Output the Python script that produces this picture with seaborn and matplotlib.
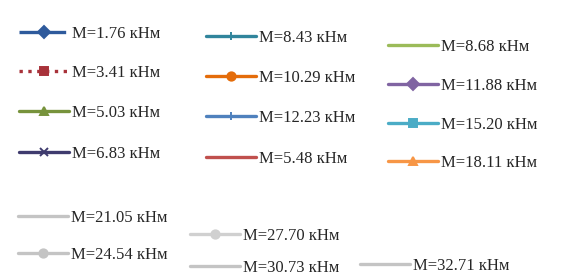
import matplotlib
matplotlib.use("Agg")
import matplotlib.pyplot as plt
from matplotlib.lines import Line2D
import seaborn as sns

sns.set_style("white")
plt.rcParams['font.family'] = ['Liberation Serif', 'DejaVu Serif']

# legend entries (bending moment, kN*m)
moments = ["1.76", "3.41", "5.03", "6.83",
           "8.43", "10.29", "12.23", "5.48",
           "8.68", "11.88", "15.20", "18.11",
           "21.05", "24.54", "27.70", "30.73", "32.71"]
colors = ["#2e5a9c", "#a8323a", "#77933c", "#3f3b6e",
          "#31859c", "#e46c0a", "#4f81bd", "#c0504d",
          "#9bbb59", "#8064a2", "#4bacc6", "#f79646",
          "#c4c4c4", "#c4c4c4", "#d0d0d0", "#c4c4c4", "#c4c4c4"]
markers = ["D", "s", "^", "x",
           "+", "o", "+", "",
           "", "D", "s", "^",
           "", "o", "o", "", ""]
linestyles = [(0, (6, 2)), ":", "-", "-",
              "-", "-", "-", "-",
              "-", "-", "-", "-",
              "-", "-", "-", "-", "-"]

# where each entry sits (left of line, vertical centre), in pixels
pos_x = [19, 19, 19, 19,
         206, 206, 206, 206,
         388, 388, 388, 388,
         18, 18, 190, 190, 360]
pos_y = [34, 73, 113, 154,
         38, 78, 118, 159,
         47, 86, 125, 163,
         218, 255, 236, 268, 266]

W, H = 563, 277
fig = plt.figure(figsize=(W / 100, H / 100), dpi=100)
ax = fig.add_axes([0, 0, 1, 1])
ax.axis("off")

for i, m in enumerate(moments):
    h = Line2D([], [], color=colors[i], lw=2.4, linestyle=linestyles[i],
               marker=markers[i] if markers[i] else None, markersize=6,
               markeredgewidth=1.4)
    lg = ax.legend([h], [f"M={m} кНм"], loc="center left",
                   bbox_to_anchor=(pos_x[i] / W, 1 - pos_y[i] / H),
                   bbox_transform=fig.transFigure, frameon=False,
                   fontsize=12, handlelength=3.0,
                   handletextpad=0.2, borderpad=0, borderaxespad=0)
    ax.add_artist(lg)
ax.legend_ = None

fig.savefig("out.png", dpi=100)
